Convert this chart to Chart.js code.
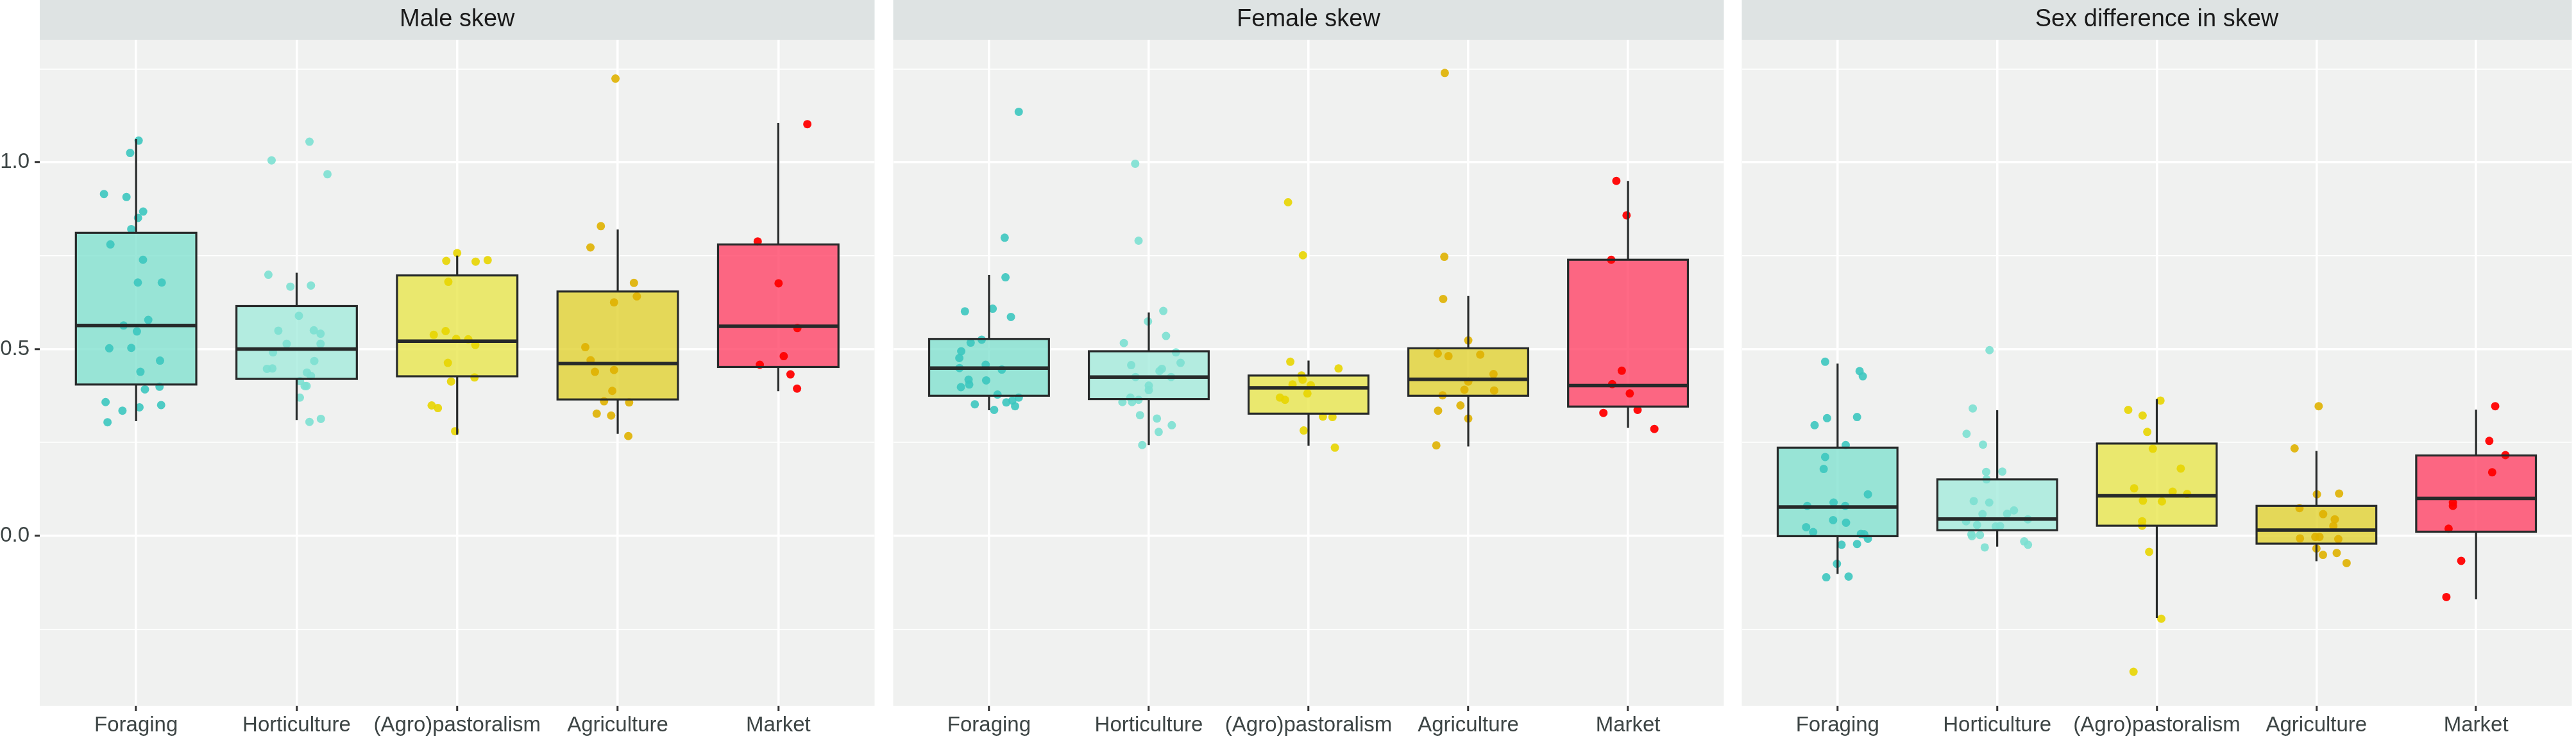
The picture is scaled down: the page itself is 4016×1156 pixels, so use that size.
<!DOCTYPE html>
<html>
<head>
<meta charset="utf-8">
<script src="https://cdn.jsdelivr.net/npm/chart.js@4.4.1/dist/chart.umd.min.js"></script>
<style>
  html, body { margin: 0; padding: 0; background: #ffffff; }
  #wrap { position: relative; width: 4016px; height: 1156px; }
  .panel { position: absolute; top: 0; }
  canvas { display: block; }
</style>
</head>
<body>
<div id="wrap">
  <div class="panel" style="left:0px"><canvas id="male" width="1370" height="1156"></canvas></div>
  <div class="panel" style="left:1386px"><canvas id="female" width="1308" height="1156"></canvas></div>
  <div class="panel" style="left:2709px"><canvas id="diff" width="1307" height="1156"></canvas></div>
</div>
<script>
const categories = ["Foraging", "Horticulture", "(Agro)pastoralism", "Agriculture", "Market"];
const yMin = -0.455;
const yMax = 1.328;
const yGridValues = [-0.25, 0, 0.25, 0.5, 0.75, 1, 1.25];
const yLabelValues = [0, 0.5, 1];

// box stats per category: [lower whisker, q1, median, q3, upper whisker]
const maleBoxes = [
  [0.307, 0.405, 0.563, 0.811, 1.062],
  [0.310, 0.420, 0.500, 0.615, 0.704],
  [0.271, 0.427, 0.521, 0.697, 0.750],
  [0.273, 0.365, 0.461, 0.654, 0.820],
  [0.387, 0.452, 0.561, 0.780, 1.105],
];
const femaleBoxes = [
  [0.336, 0.375, 0.449, 0.527, 0.698],
  [0.243, 0.366, 0.425, 0.494, 0.598],
  [0.241, 0.327, 0.396, 0.429, 0.469],
  [0.239, 0.375, 0.419, 0.502, 0.642],
  [0.289, 0.346, 0.402, 0.739, 0.950],
];
const diffBoxes = [
  [-0.102, -0.001, 0.077, 0.236, 0.461],
  [-0.029, 0.015, 0.045, 0.151, 0.336],
  [-0.220, 0.027, 0.107, 0.247, 0.366],
  [-0.068, -0.021, 0.015, 0.080, 0.227],
  [-0.170, 0.011, 0.100, 0.215, 0.338],
];

// jittered points: [horizontal offset from category, value]
const maleForaging = [
  [0.016, 1.058], [-0.037, 1.025], [-0.20, 0.915], [-0.06, 0.907], [0.044, 0.868],
  [0.012, 0.851], [-0.03, 0.821], [-0.16, 0.780], [0.043, 0.739], [0.011, 0.678],
  [0.16, 0.678], [0.076, 0.578], [-0.078, 0.563], [0.005, 0.547], [-0.167, 0.502],
  [-0.03, 0.503], [0.149, 0.469], [0.027, 0.439], [0.146, 0.399], [0.055, 0.392],
  [-0.19, 0.358], [0.156, 0.350], [-0.085, 0.335], [0.021, 0.344], [-0.178, 0.304],
];
const maleHorticulture = [
  [0.08, 1.055], [-0.156, 1.005], [0.192, 0.968], [-0.176, 0.699], [-0.039, 0.667],
  [0.089, 0.670], [0.014, 0.589], [-0.114, 0.549], [0.107, 0.550], [0.149, 0.541],
  [-0.062, 0.514], [0.149, 0.514], [-0.147, 0.491], [0.11, 0.468], [-0.185, 0.447],
  [-0.151, 0.448], [0.064, 0.437], [0.089, 0.428], [0.021, 0.414], [0.05, 0.401],
  [0.062, 0.401], [0.02, 0.370], [0.08, 0.305], [0.151, 0.313],
];
const malePastoral = [
  [0.0, 0.757], [-0.068, 0.736], [0.115, 0.734], [0.19, 0.738], [-0.055, 0.680],
  [-0.072, 0.548], [-0.146, 0.538], [-0.006, 0.527], [0.069, 0.526], [0.113, 0.511],
  [-0.058, 0.463], [0.108, 0.424], [-0.038, 0.413], [-0.159, 0.349], [-0.12, 0.342],
  [-0.013, 0.280],
];
const maleAgriculture = [
  [-0.014, 1.224], [-0.105, 0.829], [-0.17, 0.772], [0.101, 0.677], [0.119, 0.641],
  [-0.023, 0.625], [-0.202, 0.505], [-0.169, 0.470], [-0.142, 0.439], [-0.023, 0.444],
  [-0.034, 0.388], [-0.085, 0.360], [0.071, 0.357], [-0.131, 0.327], [-0.041, 0.322],
  [0.066, 0.267],
];
const maleMarket = [
  [0.181, 1.102], [-0.128, 0.788], [0.002, 0.676], [0.119, 0.556], [0.034, 0.481],
  [-0.115, 0.458], [0.076, 0.432], [0.117, 0.394],
];

const femaleForaging = [
  [0.186, 1.135], [0.098, 0.798], [0.103, 0.692], [-0.151, 0.601], [0.023, 0.608],
  [0.137, 0.586], [-0.046, 0.525], [-0.115, 0.517], [-0.174, 0.494], [-0.186, 0.476],
  [-0.185, 0.449], [-0.021, 0.458], [0.08, 0.445], [-0.128, 0.418], [-0.018, 0.416],
  [-0.124, 0.405], [-0.176, 0.398], [0.053, 0.378], [0.186, 0.370], [0.146, 0.362],
  [0.108, 0.357], [-0.089, 0.352], [0.163, 0.347], [0.032, 0.337],
];
const femaleHorticulture = [
  [-0.085, 0.996], [-0.064, 0.790], [0.091, 0.602], [-0.005, 0.574], [0.108, 0.535],
  [-0.156, 0.516], [0.17, 0.491], [0.199, 0.463], [-0.11, 0.457], [0.082, 0.447],
  [0.067, 0.441], [-0.083, 0.425], [0.14, 0.425], [0.0, 0.402], [0.0, 0.390],
  [-0.115, 0.370], [-0.064, 0.364], [-0.165, 0.358], [-0.105, 0.358], [-0.055, 0.323],
  [0.051, 0.314], [0.144, 0.296], [0.062, 0.278], [-0.041, 0.243],
];
const femalePastoral = [
  [-0.128, 0.893], [-0.035, 0.751], [-0.114, 0.466], [-0.044, 0.429], [-0.037, 0.418],
  [-0.1, 0.405], [0.014, 0.403], [-0.007, 0.381], [-0.179, 0.370], [-0.147, 0.364],
  [0.09, 0.319], [-0.03, 0.282], [0.188, 0.448], [0.15, 0.318], [0.165, 0.236],
];
const femaleAgriculture = [
  [-0.147, 1.239], [-0.15, 0.747], [-0.157, 0.634], [0.0, 0.523], [-0.191, 0.488],
  [-0.124, 0.481], [0.075, 0.485], [0.158, 0.433], [0.0, 0.413], [-0.024, 0.391],
  [0.162, 0.389], [-0.161, 0.376], [-0.049, 0.349], [-0.189, 0.335], [0.0, 0.314],
  [-0.2, 0.242],
];
const femaleMarket = [
  [-0.073, 0.950], [-0.009, 0.858], [-0.105, 0.739], [-0.039, 0.442], [-0.099, 0.406],
  [0.011, 0.381], [-0.154, 0.329], [0.06, 0.337], [0.165, 0.286],
];

const diffForaging = [
  [-0.078, 0.466], [0.138, 0.441], [0.158, 0.427], [-0.066, 0.315], [-0.144, 0.296],
  [0.122, 0.318], [0.051, 0.243], [-0.078, 0.211], [-0.087, 0.179], [0.19, 0.111],
  [-0.19, 0.080], [-0.025, 0.089], [0.048, 0.080], [-0.028, 0.042], [0.053, 0.035],
  [-0.197, 0.023], [-0.153, 0.010], [0.146, 0.005], [0.167, 0.004], [0.19, -0.008],
  [0.025, -0.024], [0.122, -0.022], [-0.004, -0.075], [-0.071, -0.111], [0.069, -0.109],
];
const diffHorticulture = [
  [-0.048, 0.497], [-0.153, 0.341], [-0.192, 0.273], [-0.089, 0.244], [-0.069, 0.171],
  [0.032, 0.172], [-0.067, 0.151], [-0.147, 0.093], [-0.05, 0.089], [0.105, 0.068],
  [-0.092, 0.058], [0.062, 0.059], [-0.195, 0.039], [0.192, 0.044], [-0.126, 0.029],
  [-0.009, 0.025], [0.018, 0.026], [-0.162, 0.004], [-0.108, 0.002], [-0.158, -0.001],
  [0.169, -0.015], [0.193, -0.024], [-0.078, -0.031],
];
const diffPastoral = [
  [0.023, 0.362], [-0.179, 0.337], [-0.089, 0.322], [-0.06, 0.278], [-0.025, 0.233],
  [0.15, 0.180], [-0.142, 0.127], [0.099, 0.118], [-0.087, 0.094], [0.032, 0.092],
  [-0.092, 0.039], [-0.092, 0.027], [-0.048, -0.043], [0.028, -0.222], [-0.146, -0.364],
  [0.19, 0.112],
];
const diffAgriculture = [
  [0.014, 0.347], [-0.137, 0.234], [0.003, 0.111], [0.142, 0.113], [-0.106, 0.074],
  [0.042, 0.058], [0.115, 0.044], [0.106, 0.026], [-0.103, -0.007], [-0.007, -0.003],
  [0.019, -0.003], [0.137, -0.009], [0.0, -0.034], [0.041, -0.051], [0.127, -0.046],
  [0.189, -0.073],
];
const diffMarket = [
  [0.12, 0.347], [0.083, 0.254], [0.184, 0.216], [0.101, 0.170], [-0.145, 0.089],
  [-0.145, 0.080], [-0.172, 0.019], [-0.093, -0.067], [-0.186, -0.164],
];

const pointColors = [
  "rgba(60,199,191,0.9)",
  "rgba(124,224,209,0.9)",
  "rgba(232,213,0,0.9)",
  "rgba(223,177,0,0.9)",
  "rgba(255,0,0,0.95)",
];
const boxFills = [
  "rgba(130,225,208,0.8)",
  "rgba(164,235,220,0.8)",
  "rgba(233,230,78,0.8)",
  "rgba(225,210,50,0.8)",
  "rgba(255,68,102,0.8)",
];
const fontFamily = "'Liberation Sans', Arial, sans-serif";
const lineColor = "#272a2a";

// panel background + strip behind the title
const panelBg = {
  id: "panelBg",
  beforeDraw(chart) {
    const { ctx, chartArea: a } = chart;
    ctx.save();
    ctx.fillStyle = "#dee3e3";
    ctx.fillRect(a.left, 0, a.right - a.left, a.top);
    ctx.fillStyle = "#f0f1f0";
    ctx.fillRect(a.left, a.top, a.right - a.left, a.bottom - a.top);
    ctx.restore();
  },
};

// boxplots drawn with the chart's own scales
function makeBoxPlugin(stats) {
  return {
    id: "boxplot",
    beforeDatasetsDraw(chart) {
      const { ctx, scales: { x, y } } = chart;
      ctx.save();
      stats.forEach((s, i) => {
        const l = x.getPixelForValue(i - 0.375);
        const r = x.getPixelForValue(i + 0.375);
        const top = y.getPixelForValue(s[3]);
        const bot = y.getPixelForValue(s[1]);
        ctx.fillStyle = boxFills[i];
        ctx.fillRect(l, top, r - l, bot - top);
      });
      ctx.restore();
    },
    afterDatasetsDraw(chart) {
      const { ctx, scales: { x, y } } = chart;
      ctx.save();
      ctx.strokeStyle = lineColor;
      stats.forEach((s, i) => {
        const l = x.getPixelForValue(i - 0.375);
        const r = x.getPixelForValue(i + 0.375);
        const c = x.getPixelForValue(i);
        const lo = y.getPixelForValue(s[0]);
        const q1 = y.getPixelForValue(s[1]);
        const med = y.getPixelForValue(s[2]);
        const q3 = y.getPixelForValue(s[3]);
        const hi = y.getPixelForValue(s[4]);
        ctx.lineWidth = 3.2;
        ctx.beginPath();
        ctx.moveTo(c, hi); ctx.lineTo(c, q3);
        ctx.moveTo(c, q1); ctx.lineTo(c, lo);
        ctx.stroke();
        ctx.strokeRect(l, q3, r - l, q1 - q3);
        ctx.lineWidth = 5.5;
        ctx.beginPath();
        ctx.moveTo(l, med); ctx.lineTo(r, med);
        ctx.stroke();
      });
      ctx.restore();
    },
  };
}

function buildChart(id, title, boxes, groups, showY) {
  const datasets = groups.map((pts, i) => ({
    label: categories[i],
    data: pts.map((p) => ({ x: i + p[0], y: p[1] })),
    backgroundColor: pointColors[i],
    borderWidth: 0,
    pointRadius: 6.5,
    pointHoverRadius: 6.5,
  }));

  const isMajor = (v) => yLabelValues.includes(v);

  new Chart(document.getElementById(id), {
    type: "scatter",
    data: { datasets },
    plugins: [panelBg, makeBoxPlugin(boxes)],
    options: {
      responsive: false,
      animation: false,
      layout: { padding: 0 },
      plugins: {
        legend: { display: false },
        tooltip: { enabled: false },
        title: {
          display: true,
          text: title,
          fullSize: false,
          color: "#1a1a1a",
          font: { family: fontFamily, size: 38, weight: "normal", lineHeight: 1.2 },
          padding: { top: 8, bottom: 8.4 },
        },
      },
      scales: {
        x: {
          type: "linear",
          min: -0.6,
          max: 4.6,
          afterBuildTicks: (s) => {
            s.ticks = categories.map((c, i) => ({ value: i }));
          },
          afterFit: (s) => {
            s.height = 55;
          },
          ticks: {
            callback: (v) => categories[v],
            color: "#3d4545",
            font: { family: fontFamily, size: 33 },
            padding: 3,
            maxRotation: 0,
            autoSkip: false,
          },
          grid: {
            color: "#ffffff",
            lineWidth: 3.5,
            tickColor: "#333333",
            tickLength: 8,
            tickWidth: 3,
          },
          border: { display: false },
        },
        y: {
          type: "linear",
          min: yMin,
          max: yMax,
          afterBuildTicks: (s) => {
            s.ticks = yGridValues.map((v) => ({ value: v }));
          },
          afterFit: (s) => {
            s.width = showY ? 62 : 0;
          },
          ticks: {
            display: showY,
            callback: (v) => (isMajor(v) ? v.toFixed(1) : ""),
            color: "#3d4545",
            font: { family: fontFamily, size: 33 },
            padding: 8,
          },
          grid: {
            color: "#ffffff",
            lineWidth: (ctx) => (ctx.tick && isMajor(ctx.tick.value) ? 3.5 : 1.8),
            tickColor: (ctx) => (ctx.tick && isMajor(ctx.tick.value) ? "#333333" : "rgba(0,0,0,0)"),
            drawTicks: showY,
            tickLength: 8,
            tickWidth: 3,
          },
          border: { display: false },
        },
      },
    },
  });
}

buildChart("male", "Male skew", maleBoxes,
  [maleForaging, maleHorticulture, malePastoral, maleAgriculture, maleMarket], true);
buildChart("female", "Female skew", femaleBoxes,
  [femaleForaging, femaleHorticulture, femalePastoral, femaleAgriculture, femaleMarket], false);
buildChart("diff", "Sex difference in skew", diffBoxes,
  [diffForaging, diffHorticulture, diffPastoral, diffAgriculture, diffMarket], false);
</script>
</body>
</html>
